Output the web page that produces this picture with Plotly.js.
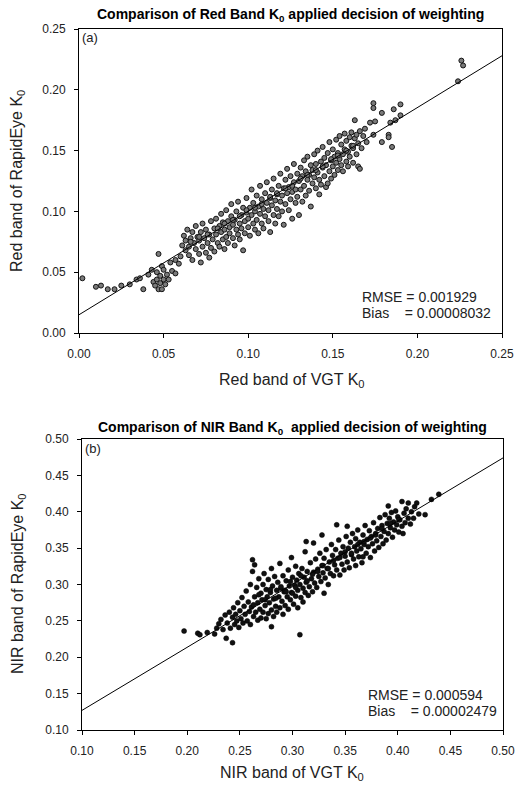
<!DOCTYPE html>
<html>
<head>
<meta charset="utf-8">
<script src="https://cdn.plot.ly/plotly-3.0.1.min.js"></script>
<style>html,body{margin:0;padding:0;background:#fff;}#chart{width:518px;height:785px;}</style>
</head>
<body>
<div id="chart"></div>
<script>
// ---- Panel (a): Red band ----
const redVGT = [0.002,0.010,0.013,0.017,0.021,0.025,0.030,0.034,0.036,0.038,0.041,0.043,0.044,0.045,0.046,0.046,0.047,0.047,0.048,0.048,0.049,0.049,0.050,0.050,0.051,0.052,0.053,0.054,0.055,0.057,0.057,0.059,0.060,
0.061,0.062,0.063,0.063,0.064,0.065,0.065,0.066,0.067,0.067,0.068,0.069,0.069,0.070,0.071,0.071,0.072,0.072,0.073,0.073,0.074,0.075,0.075,0.076,0.077,0.077,0.078,0.078,0.079,0.080,0.080,
0.081,0.081,0.082,0.083,0.083,0.084,0.084,0.085,0.085,0.086,0.086,0.087,0.087,0.088,0.088,0.089,0.089,0.090,0.090,0.091,0.091,0.092,0.092,0.093,0.093,0.094,0.094,0.095,0.095,0.096,0.096,0.097,0.097,0.098,0.098,0.099,0.099,0.100,0.100,
0.101,0.101,0.102,0.102,0.103,0.103,0.104,0.104,0.105,0.105,0.106,0.106,0.107,0.107,0.108,0.108,0.109,0.109,0.110,0.110,0.111,0.111,0.112,0.112,0.113,0.113,0.114,0.114,0.115,0.115,0.116,0.116,0.117,0.117,0.118,0.118,0.119,0.119,0.120,0.120,
0.121,0.121,0.122,0.122,0.123,0.123,0.124,0.124,0.125,0.125,0.126,0.126,0.127,0.127,0.128,0.128,0.129,0.129,0.130,0.130,0.131,0.131,0.132,0.132,0.133,0.133,0.134,0.134,0.135,0.135,0.136,0.136,0.137,0.137,0.138,0.138,0.139,0.139,0.140,0.140,
0.141,0.141,0.142,0.142,0.143,0.143,0.144,0.144,0.145,0.145,0.146,0.146,0.147,0.147,0.148,0.148,0.149,0.149,0.150,0.150,0.151,0.151,0.152,0.152,0.153,0.153,0.154,0.154,0.155,0.155,0.156,0.156,0.157,0.157,0.158,0.158,0.159,0.159,0.160,0.160,
0.161,0.161,0.162,0.162,0.163,0.163,0.164,0.164,0.165,0.165,0.166,0.166,0.167,0.168,0.169,0.170,
0.172,0.174,0.174,0.174,0.175,0.179,0.179,0.183,0.183,0.184,0.185,0.186,0.187,0.190,0.190,0.224,0.226,0.227,
0.066,0.071,0.076,0.082,0.086,0.091,0.095,0.099,0.104,0.108,0.113,0.117,0.122,0.126,0.131,0.135,0.140,0.144,0.149,0.153,0.158,0.162];
const redRapidEye = [0.045,0.038,0.039,0.036,0.036,0.039,0.040,0.044,0.045,0.036,0.048,0.052,0.042,0.039,0.044,0.050,0.036,0.065,0.041,0.047,0.055,0.036,0.044,0.052,0.040,0.048,0.044,0.058,0.051,0.049,0.060,0.057,0.063,
0.072,0.080,0.068,0.076,0.085,0.071,0.064,0.078,0.083,0.060,0.074,0.069,0.088,0.079,0.065,0.076,0.083,0.058,0.071,0.090,0.078,0.066,0.085,0.074,0.081,0.062,0.070,0.092,0.077,0.086,0.067,
0.081,0.094,0.074,0.088,0.071,0.098,0.083,0.077,0.091,0.069,0.085,0.101,0.079,0.092,0.074,0.087,0.082,0.096,0.106,0.078,0.089,0.093,0.072,0.085,0.100,0.081,0.108,0.090,0.077,0.097,0.086,0.103,0.068,0.092,0.082,0.099,0.111,0.087,0.094,
0.103,0.080,0.097,0.118,0.090,0.107,0.085,0.100,0.113,0.093,0.082,0.104,0.098,0.121,0.090,0.110,0.102,0.086,0.115,0.096,0.107,0.124,0.092,0.101,0.111,0.083,0.105,0.118,0.097,0.127,0.109,0.090,0.114,0.102,0.121,0.096,0.108,0.131,0.113,0.100,
0.119,0.089,0.106,0.126,0.115,0.135,0.101,0.120,0.110,0.129,0.116,0.094,0.124,0.139,0.107,0.118,0.131,0.112,0.097,0.125,0.136,0.118,0.108,0.129,0.142,0.121,0.113,0.133,0.126,0.145,0.117,0.130,0.138,0.104,0.123,0.134,0.147,0.128,0.119,0.139,
0.132,0.150,0.126,0.114,0.141,0.122,0.136,0.153,0.129,0.144,0.120,0.138,0.148,0.123,0.133,0.157,0.142,0.127,0.151,0.137,0.145,0.130,0.159,0.140,0.134,0.148,0.162,0.143,0.138,0.155,0.147,0.133,0.164,0.151,0.141,0.158,0.137,0.149,0.161,0.145,
0.154,0.165,0.140,0.152,0.175,0.160,0.147,0.163,0.137,0.156,0.166,0.135,0.152,0.162,0.168,0.157,
0.173,0.189,0.185,0.163,0.174,0.181,0.157,0.163,0.161,0.173,0.153,0.184,0.175,0.188,0.179,0.207,0.224,0.220,
0.075,0.079,0.081,0.086,0.090,0.093,0.096,0.101,0.103,0.106,0.112,0.115,0.119,0.121,0.127,0.130,0.134,0.137,0.143,0.146,0.150,0.154];
const redFitX = [0.00, 0.25];
const redFitY = [0.015, 0.228];

// ---- Panel (b): NIR band ----
const nirVGT = [0.197,0.210,0.212,0.219,0.226,0.228,0.237,0.243,0.280,
0.230,0.232,0.234,0.236,0.238,0.240,0.241,0.243,0.244,0.245,0.246,0.247,0.248,0.249,0.250,0.251,0.252,0.253,0.254,0.255,0.256,0.257,0.258,0.259,0.260,0.260,
0.261,0.262,0.262,0.263,0.264,0.264,0.265,0.266,0.267,0.267,0.268,0.269,0.270,0.270,0.271,0.272,0.272,0.273,0.274,0.275,0.275,0.276,0.277,0.277,0.278,0.279,0.280,0.280,0.281,0.282,0.282,0.283,0.284,0.285,0.285,0.286,0.287,0.288,0.288,0.289,0.290,
0.291,0.291,0.292,0.293,0.293,0.294,0.295,0.296,0.296,0.297,0.298,0.299,0.299,0.300,0.300,0.301,0.302,0.303,0.303,0.304,0.305,0.305,0.306,0.307,0.307,0.308,0.309,0.310,0.310,0.311,0.312,0.312,0.313,0.313,0.314,0.315,0.316,0.317,0.318,0.319,0.320,0.320,
0.321,0.322,0.323,0.324,0.325,0.326,0.327,0.328,0.328,0.329,0.330,0.330,0.331,0.332,0.333,0.334,0.335,0.336,0.337,0.338,0.339,0.340,0.341,0.342,0.342,0.343,0.344,0.345,0.346,0.347,0.348,0.349,0.350,
0.351,0.352,0.352,0.353,0.354,0.355,0.356,0.357,0.358,0.359,0.360,0.360,0.361,0.362,0.363,0.364,0.365,0.366,0.367,0.367,0.368,0.369,0.370,0.371,0.372,0.373,0.374,0.375,0.376,0.377,0.378,0.379,0.380,
0.381,0.382,0.383,0.384,0.385,0.386,0.387,0.388,0.389,0.390,0.391,0.391,0.392,0.393,0.394,0.395,0.396,0.397,0.398,0.399,0.400,0.401,0.402,0.404,0.404,0.405,0.406,0.407,0.408,0.410,0.410,0.412,0.413,0.415,0.416,0.418,0.420,0.426,0.432,0.439,
0.263,0.268,0.274,0.279,0.284,0.289,0.294,0.298,0.303,0.308,0.314,0.319,0.324,0.329,0.334,0.339,0.345,0.350,0.356,0.362,0.368,0.374,0.379,0.385,0.393,0.401];
const nirRapidEye = [0.236,0.233,0.231,0.234,0.232,0.240,0.226,0.220,0.242,
0.246,0.252,0.238,0.258,0.247,0.262,0.240,0.255,0.268,0.245,0.259,0.250,0.275,0.241,0.264,0.253,0.282,0.247,0.270,0.259,0.291,0.250,0.276,0.263,0.245,0.300,
0.269,0.334,0.318,0.256,0.327,0.283,0.262,0.296,0.251,0.275,0.308,0.266,0.288,0.254,0.279,0.300,0.262,0.315,0.271,0.253,0.293,0.283,0.260,0.307,0.275,0.289,0.322,0.265,0.298,0.256,0.280,0.311,0.270,0.292,0.262,0.303,0.283,0.329,0.268,0.295,0.277,
0.312,0.259,0.290,0.292,0.271,0.305,0.283,0.320,0.266,0.298,0.279,0.337,0.289,0.288,0.310,0.273,0.299,0.325,0.284,0.306,0.292,0.268,0.315,0.231,0.300,0.282,0.322,0.295,0.276,0.310,0.345,0.289,0.359,0.303,0.318,0.285,0.297,0.330,0.308,0.290,0.357,0.317,
0.302,0.335,0.296,0.321,0.311,0.343,0.304,0.368,0.326,0.316,0.288,0.336,0.309,0.348,0.322,0.300,0.331,0.315,0.355,0.340,0.312,0.327,0.348,0.382,0.320,0.336,0.361,0.313,0.343,0.328,0.352,0.320,0.339,
0.366,0.380,0.331,0.350,0.323,0.358,0.341,0.370,0.335,0.352,0.326,0.363,0.346,0.375,0.338,0.358,0.349,0.330,0.338,0.368,0.355,0.381,0.343,0.362,0.352,0.374,0.337,0.366,0.356,0.385,0.346,0.370,0.360,
0.377,0.351,0.392,0.366,0.381,0.356,0.373,0.396,0.361,0.384,0.408,0.370,0.391,0.378,0.399,0.365,0.386,0.375,0.401,0.382,0.393,0.372,0.389,0.414,0.380,0.370,0.398,0.385,0.404,0.412,0.391,0.383,0.400,0.391,0.407,0.412,0.397,0.396,0.417,0.424,
0.272,0.286,0.279,0.293,0.281,0.297,0.290,0.304,0.296,0.312,0.305,0.314,0.318,0.326,0.322,0.333,0.337,0.345,0.343,0.355,0.359,0.364,0.368,0.377,0.384,0.389];
const nirFitX = [0.10, 0.50];
const nirFitY = [0.127, 0.474];

const FONT = 'Liberation Sans, Arial, Helvetica, sans-serif';
const TXT = '#222';

const traces = [
  {x: redVGT, y: redRapidEye, type: 'scatter', mode: 'markers', xaxis: 'x', yaxis: 'y',
   marker: {size: 5, color: '#7a7a7a', line: {color: '#141414', width: 1}}},
  {x: redFitX, y: redFitY, type: 'scatter', mode: 'lines', xaxis: 'x', yaxis: 'y',
   line: {color: '#000', width: 1}},
  {x: nirVGT, y: nirRapidEye, type: 'scatter', mode: 'markers', xaxis: 'x2', yaxis: 'y2',
   marker: {size: 5, color: '#111', line: {color: '#000', width: 0.5}}},
  {x: nirFitX, y: nirFitY, type: 'scatter', mode: 'lines', xaxis: 'x2', yaxis: 'y2',
   line: {color: '#000', width: 1}}
];

function axisBase(range, domain, anchor) {
  return {
    range: range, domain: domain, anchor: anchor,
    dtick: 0.05, tick0: 0, tickformat: '.2f',
    showgrid: false, zeroline: false,
    showline: true, mirror: true, linecolor: '#000', linewidth: 1,
    ticks: 'outside', ticklen: 4, tickcolor: '#000', tickwidth: 1,
    tickfont: {family: FONT, size: 12, color: TXT},
    ticklabelstandoff: 6,
    fixedrange: true
  };
}

const xa = axisBase([0, 0.25], [79/518, 502/518], 'y');
const ya = axisBase([0, 0.25], [1 - 333/785, 1 - 29/785], 'x');
const xb = axisBase([0.10, 0.50], [82/518, 503/518], 'y2');
xb.tick0 = 0.10;
const yb = axisBase([0.10, 0.50], [1 - 730/785, 1 - 439/785], 'x2');
yb.tick0 = 0.10;

function py(px) { return 1 - px / 785; }
function pxx(px) { return px / 518; }

const NB = '\u00A0';
function ann(text, x, y, size, opts) {
  return Object.assign({text: text, x: pxx(x), y: py(y), xref: 'paper', yref: 'paper',
    xanchor: 'center', yanchor: 'middle', showarrow: false,
    font: {family: FONT, size: size, color: TXT}}, opts || {});
}
const annotations = [
  ann('<b>Comparison of Red Band K<sub>0</sub> applied decision of weighting</b>', 290, 15, 14, {font: {family: FONT, size: 14, color: '#000'}}),
  ann('<b>Comparison of NIR Band K<sub>0</sub>' + NB + ' applied decision of weighting</b>', 292, 428, 14, {font: {family: FONT, size: 14, color: '#000'}}),
  ann('Red band of VGT K<sub>0</sub>', 292, 380, 16),
  ann('NIR band of VGT K<sub>0</sub>', 292, 773, 16),
  ann('Red band of RapidEye K<sub>0</sub>', 18, 181, 16, {textangle: -90}),
  ann('NIR band of RapidEye K<sub>0</sub>', 18, 584, 16, {textangle: -90}),
  ann('(a)', 80, 38, 13, {xanchor: 'left'}),
  ann('(b)', 83, 448, 13, {xanchor: 'left'}),
  ann('RMSE = 0.001929', 360, 297, 14, {xanchor: 'left'}),
  ann('Bias' + NB.repeat(3) + ' = 0.00008032', 360, 313, 14, {xanchor: 'left'}),
  ann('RMSE = 0.000594', 366, 695, 14, {xanchor: 'left'}),
  ann('Bias' + NB.repeat(3) + ' = 0.00002479', 366, 711, 14, {xanchor: 'left'})
];

const layout = {
  width: 518, height: 785,
  margin: {l: 0, r: 0, t: 0, b: 0},
  paper_bgcolor: '#fff', plot_bgcolor: '#fff',
  showlegend: false,
  font: {family: FONT, color: TXT},
  xaxis: xa, yaxis: ya, xaxis2: xb, yaxis2: yb,
  annotations: annotations
};

Plotly.newPlot('chart', traces, layout, {displayModeBar: false, staticPlot: true});
</script>
</body>
</html>
